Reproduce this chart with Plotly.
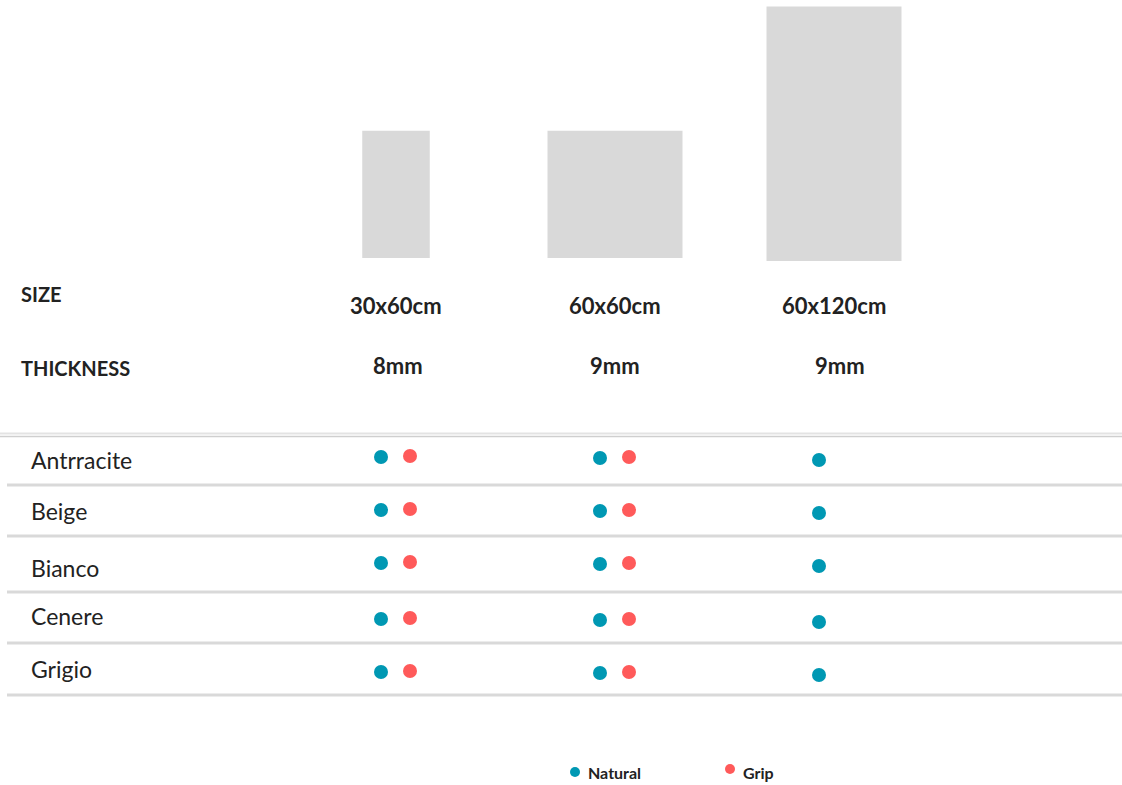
import plotly.graph_objects as go

# ---------------- data ----------------
sizes = ["30x60cm", "60x60cm", "60x120cm"]
tile_w_cm = [30, 60, 60]
tile_h_cm = [60, 60, 120]
thickness = ["8mm", "9mm", "9mm"]
colours = ["Antrracite", "Beige", "Bianco", "Cenere", "Grigio"]
natural = [[1, 1, 1], [1, 1, 1], [1, 1, 1], [1, 1, 1], [1, 1, 1]]
grip = [[1, 1, 0], [1, 1, 0], [1, 1, 0], [1, 1, 0], [1, 1, 0]]
series_names = ["Natural", "Grip"]

# ---------------- layout (pixels) ----------------
W, H = 1122, 785
SX, SY = 2.25, 2.12          # px per cm for the tile drawings
TILE_BASE = 258              # px from top where tiles sit
PAD = 6                      # extra px below the tile base inside the tile axes
tile_dy_px = [0, 0, 3]       # small vertical offsets of tile bottoms
col_px = [396, 615, 834]
nat_dx, grip_dx = -15, 14
col_dy = [0, 1, 3]
row_px = [457, 510, 563, 619, 672]
label_px = [460, 511, 568, 616, 669]
sep_px = [485, 536, 592, 643, 695]

TEAL = "#0098b3"
RED = "#ff5a5a"
GREY = "#d9d9d9"
INK = "#222222"
FONT = "Lato"

fig = go.Figure()

# tiles drawn in cm on their own axes
fig.add_trace(go.Bar(
    x=[c / SX for c in col_px], y=tile_h_cm, width=tile_w_cm,
    base=[-d / SY for d in tile_dy_px],
    marker=dict(color=GREY, line=dict(width=0)),
    xaxis="x", yaxis="y", showlegend=False, hoverinfo="skip"))

# availability dots
nx, ny, gx, gy = [], [], [], []
for r, _ in enumerate(colours):
    for c in range(len(sizes)):
        if natural[r][c]:
            nx.append(col_px[c] + nat_dx)
            ny.append(row_px[r] + col_dy[c])
        if grip[r][c]:
            gx.append(col_px[c] + grip_dx)
            gy.append(row_px[r] + col_dy[c] - 1)
fig.add_trace(go.Scatter(x=nx, y=ny, mode="markers", name=series_names[0],
                         marker=dict(color=TEAL, size=14), xaxis="x2", yaxis="y2",
                         showlegend=False))
fig.add_trace(go.Scatter(x=gx, y=gy, mode="markers", name=series_names[1],
                         marker=dict(color=RED, size=14), xaxis="x2", yaxis="y2",
                         showlegend=False))

# legend (custom)
fig.add_trace(go.Scatter(x=[575, 730], y=[772, 769], mode="markers",
                         marker=dict(color=[TEAL, RED], size=10),
                         xaxis="x2", yaxis="y2", showlegend=False, hoverinfo="skip"))

ann = []
def txt(x, y, s, size, bold=False, anchor="left"):
    ann.append(dict(x=x, y=y, xref="x2", yref="y2", text=f"<b>{s}</b>" if bold else s,
                    showarrow=False, xanchor=anchor, yanchor="middle",
                    font=dict(family=FONT, size=size, color=INK)))

txt(19, 294, "SIZE", 20, True)
txt(19, 368, "THICKNESS", 20, True)
for c, s in enumerate(sizes):
    txt(col_px[c], 305, s, 22, True, "center")
for c, t in enumerate(thickness):
    txt(col_px[c] + (2 if c == 0 else (6 if c == 2 else 0)), 365, t, 22, True, "center")
for r, name in enumerate(colours):
    txt(29, label_px[r], name, 23)
txt(586, 772, series_names[0], 16, True)
txt(741, 772, series_names[1], 16, True)

shapes = [
    dict(type="line", xref="x2", yref="y2", x0=0, x1=W, y0=433.5, y1=433.5,
         line=dict(color="#e3e3e3", width=2)),
    dict(type="line", xref="x2", yref="y2", x0=0, x1=W, y0=436.5, y1=436.5,
         line=dict(color="#cfcfcf", width=1.5)),
]
for yv in sep_px:
    shapes.append(dict(type="line", xref="x2", yref="y2", x0=7, x1=W, y0=yv, y1=yv,
                       line=dict(color=GREY, width=3)))

ax_off = dict(visible=False, showgrid=False, zeroline=False, fixedrange=True)
fig.update_layout(
    width=W, height=H, margin=dict(l=0, r=0, t=0, b=0),
    paper_bgcolor="white", plot_bgcolor="rgba(0,0,0,0)",
    xaxis=dict(range=[0, W / SX], domain=[0, 1], anchor="y", **ax_off),
    yaxis=dict(range=[-PAD / SY, TILE_BASE / SY], domain=[1 - (TILE_BASE + PAD) / H, 1],
               anchor="x", **ax_off),
    xaxis2=dict(range=[0, W], domain=[0, 1], anchor="y2", **ax_off),
    yaxis2=dict(range=[H, 0], domain=[0, 1], anchor="x2", **ax_off),
    annotations=ann, shapes=shapes, showlegend=False,
)

fig.write_html("out.html", config={"displayModeBar": False},
               post_script="document.body.style.margin='0';document.body.style.overflow='hidden';")
